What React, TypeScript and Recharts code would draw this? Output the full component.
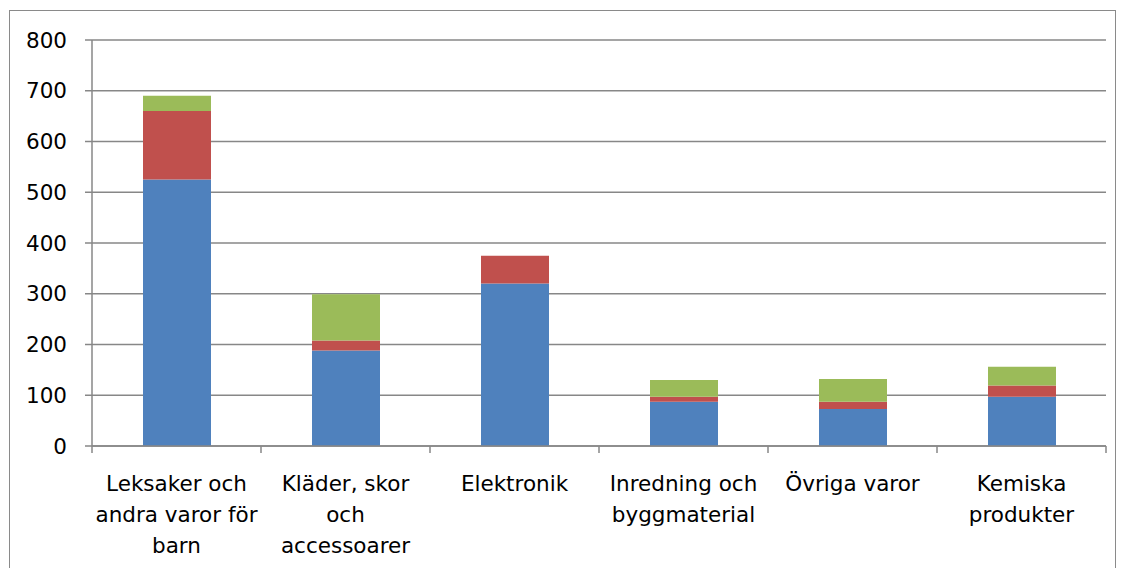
import { BarChart, Bar, XAxis, YAxis, CartesianGrid } from "recharts";

const categories = [
  "Leksaker och\nandra varor för\nbarn",
  "Kläder, skor\noch\naccessoarer",
  "Elektronik",
  "Inredning och\nbyggmaterial",
  "Övriga varor",
  "Kemiska\nprodukter",
];
const serie1 = [525, 188, 320, 87, 73, 97];
const serie2 = [135, 20, 55, 10, 14, 22];
const serie3 = [30, 91, 0, 33, 45, 37];
const yTicks = [0, 100, 200, 300, 400, 500, 600, 700, 800];

const BLUE = "#4F81BD";
const RED = "#C0504D";
const GREEN = "#9BBB59";
const GRID = "#878787";
const FONT = "'DejaVu Sans', sans-serif";

const W = 1105;
const H = 556;
const MARGIN = { top: 29, right: 9, left: 0, bottom: 0 };
const Y_W = 82;
const PLOT_W = W - MARGIN.right - Y_W;

const data = categories.map((name, i) => ({
  name,
  s1: serie1[i],
  s2: serie2[i],
  s3: serie3[i],
}));

function CategoryTick(props: any) {
  const { x, y, payload, index } = props;
  const band = PLOT_W / categories.length;
  const lines = String(payload.value).split("\n");
  return (
    <g>
      <line x1={x - band / 2} x2={x - band / 2} y1={y} y2={y + 7} stroke={GRID} strokeWidth={1.5} />
      {index === categories.length - 1 && (
        <line x1={x + band / 2} x2={x + band / 2} y1={y} y2={y + 7} stroke={GRID} strokeWidth={1.5} />
      )}
      {lines.map((t, i) => (
        <text
          key={i}
          x={x}
          y={y + 45 + i * 31}
          textAnchor="middle"
          fontFamily={FONT}
          fontSize={21.5}
          fill="#000"
        >
          {t}
        </text>
      ))}
    </g>
  );
}

export default function App() {
  return (
    <div
      style={{
        position: "absolute",
        left: 9,
        top: 10,
        width: W + 2,
        height: 570,
        border: "1px solid #8a8a8a",
        boxSizing: "border-box",
        background: "#fff",
      }}
    >
      <BarChart width={W} height={H} data={data} margin={MARGIN} barSize={68}>
        <CartesianGrid vertical={false} stroke={GRID} strokeWidth={1.5} />
        <XAxis
          dataKey="name"
          interval={0}
          height={H - MARGIN.top - 406}
          tickLine={false}
          tickSize={0}
          tickMargin={0}
          axisLine={{ stroke: GRID, strokeWidth: 1.5 }}
          tick={<CategoryTick />}
        />
        <YAxis
          width={Y_W}
          domain={[0, 800]}
          ticks={yTicks}
          interval={0}
          tickSize={7}
          tickMargin={18}
          axisLine={{ stroke: GRID, strokeWidth: 1.5 }}
          tickLine={{ stroke: GRID, strokeWidth: 1.5 }}
          tick={{ fontFamily: FONT, fontSize: 21.5, fill: "#000" }}
        />
        <Bar dataKey="s1" stackId="a" fill={BLUE} isAnimationActive={false} />
        <Bar dataKey="s2" stackId="a" fill={RED} isAnimationActive={false} />
        <Bar dataKey="s3" stackId="a" fill={GREEN} isAnimationActive={false} />
      </BarChart>
    </div>
  );
}
